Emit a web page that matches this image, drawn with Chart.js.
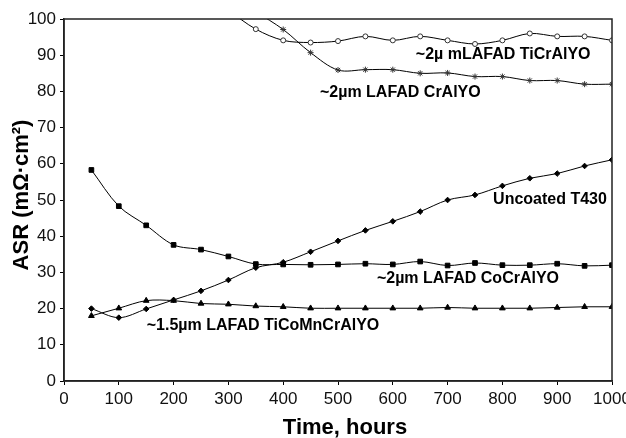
<!DOCTYPE html>
<html>
<head>
<meta charset="utf-8">
<script src="https://cdn.jsdelivr.net/npm/chart.js@4"></script>
<style>
  html, body { margin: 0; padding: 0; background: #fff; }
  #wrap { width: 626px; height: 438px; }
</style>
</head>
<body>
<div id="wrap"><canvas id="chartASR" width="626" height="438"></canvas></div>
<script>
// hours of exposure
const hours = [50, 100, 150, 200, 250, 300, 350, 400, 450, 500, 550, 600, 650, 700, 750, 800, 850, 900, 950, 1000]
const hoursTiCrAlYO = [300, 350, 400, 450, 500, 550, 600, 650, 700, 750, 800, 850, 900, 950, 1000]
const hoursCrAlYO = [350, 400, 450, 500, 550, 600, 650, 700, 750, 800, 850, 900, 950, 1000]

// ASR values, mOhm*cm2
const asrCoCrAlYO = [58.3, 48.3, 43.0, 37.6, 36.3, 34.4, 32.3, 32.2, 32.1, 32.2, 32.4, 32.2, 33.0, 31.9, 32.6, 32.0, 32.0, 32.4, 31.8, 32.0]
const asrUncoated = [20.0, 17.5, 19.9, 22.4, 24.9, 27.9, 31.3, 32.8, 35.7, 38.7, 41.6, 44.1, 46.8, 50.0, 51.4, 53.9, 56.0, 57.3, 59.4, 61.1]
const asrTiCoMnCrAlYO = [18.0, 20.1, 22.2, 22.2, 21.4, 21.2, 20.7, 20.5, 20.1, 20.1, 20.1, 20.1, 20.1, 20.3, 20.1, 20.1, 20.1, 20.3, 20.5, 20.5]
const asrTiCrAlYO = [102.4, 97.2, 94.1, 93.5, 93.9, 95.2, 94.1, 95.2, 94.1, 93.1, 94.1, 96.0, 95.2, 95.2, 94.1]
const asrCrAlYO = [102.0, 97.1, 90.7, 85.9, 86.0, 86.0, 85.0, 85.1, 84.1, 84.1, 83.0, 83.0, 82.0, 82.0]

// series names written on the plot
const seriesLabels = ['~2µ mLAFAD TiCrAlYO', '~2µm LAFAD CrAlYO', 'Uncoated T430', '~2µm LAFAD CoCrAlYO', '~1.5µm LAFAD TiCoMnCrAlYO']

const xTicks = [0, 100, 200, 300, 400, 500, 600, 700, 800, 900, 1000]

const FONT = "'Liberation Sans', Arial, sans-serif"

function pts(xs, ys) {
    return xs.map((x, i) => { return { x: x, y: ys[i] } })
}

function serie(label, xs, ys, style, radius, fill) {
    return {
        label: label,
        data: pts(xs, ys),
        borderColor: '#000',
        borderWidth: 1,
        pointStyle: style,
        pointRadius: radius,
        pointBackgroundColor: fill ? '#000' : '#fff',
        pointBorderColor: fill ? '#000' : '#333',
        pointBorderWidth: 1,
        tension: 0.33,
        fill: false
    }
}

// where each label goes, in data units (left edge, vertical middle)
const labelSpots = [
    { x: 642, y: 90.1 },
    { x: 467, y: 79.6 },
    { x: 783, y: 50.0 },
    { x: 571, y: 28.2 },
    { x: 151, y: 15.2 }
]

const textosPlugin = {
    id: 'textos',
    afterDraw(chart) {
        const ctx = chart.ctx
        const a = chart.chartArea
        const sx = chart.scales.x
        const sy = chart.scales.y
        ctx.save()
        // frame
        ctx.strokeStyle = '#222'
        ctx.lineWidth = 1.5
        ctx.strokeRect(a.left, a.top, a.right - a.left, a.bottom - a.top)

        ctx.fillStyle = '#000'
        ctx.font = 'bold 16px ' + FONT
        ctx.textAlign = 'left'
        ctx.textBaseline = 'middle'
        seriesLabels.forEach((t, i) => {
            ctx.fillText(t, sx.getPixelForValue(labelSpots[i].x), sy.getPixelForValue(labelSpots[i].y))
        })

        // axis titles
        ctx.font = 'bold 22px ' + FONT
        ctx.textAlign = 'center'
        ctx.fillText('Time, hours', (a.left + a.right) / 2 + 7, 428)
        ctx.translate(22, 195)
        ctx.rotate(-Math.PI / 2)
        ctx.fillText('ASR (mΩ·cm²)', 0, 0)
        ctx.restore()
    }
}

const data = {
    datasets: [
        serie('TiCrAlYO', hoursTiCrAlYO, asrTiCrAlYO, 'circle', 2.5, false),
        serie('CrAlYO', hoursCrAlYO, asrCrAlYO, 'star', 3, false),
        serie('Uncoated T430', hours, asrUncoated, 'rectRot', 2.8, true),
        serie('CoCrAlYO', hours, asrCoCrAlYO, 'rect', 3.3, true),
        serie('TiCoMnCrAlYO', hours, asrTiCoMnCrAlYO, 'triangle', 3.3, true)
    ]
}

const config = {
    type: 'line',
    data: data,
    options: {
        responsive: false,
        animation: false,
        devicePixelRatio: 1,
        layout: { padding: { left: 0, right: 14, top: 19, bottom: 0 } },
        plugins: {
            legend: { display: false },
            tooltip: { enabled: false }
        },
        scales: {
            x: {
                type: 'linear',
                min: 0,
                max: 1000,
                afterBuildTicks: (scale) => { scale.ticks = xTicks.map((v) => { return { value: v } }) },
                afterFit: (scale) => { scale.height = 57; scale.paddingLeft = 0; scale.paddingRight = 0 },
                grid: { display: true, drawOnChartArea: false, drawTicks: true, tickLength: 4, color: '#000' },
                border: { display: true, color: '#222', width: 1.5 },
                ticks: {
                    color: '#111', font: { family: FONT, size: 17 }, padding: 4, maxRotation: 0, autoSkip: false,
                    callback: (v) => { return String(v) }
                }
            },
            y: {
                min: 0,
                max: 100,
                afterFit: (scale) => { scale.width = 64; scale.paddingTop = 0; scale.paddingBottom = 0 },
                grid: { display: true, drawOnChartArea: false, drawTicks: true, tickLength: 4, color: '#000' },
                border: { display: true, color: '#222', width: 1.5 },
                ticks: { stepSize: 10, color: '#111', font: { family: FONT, size: 17 }, padding: 4 }
            }
        }
    },
    plugins: [textosPlugin]
}

const canvasASR = document.getElementById('chartASR')
const graficoASR = new Chart(canvasASR, config)
</script>
</body>
</html>
